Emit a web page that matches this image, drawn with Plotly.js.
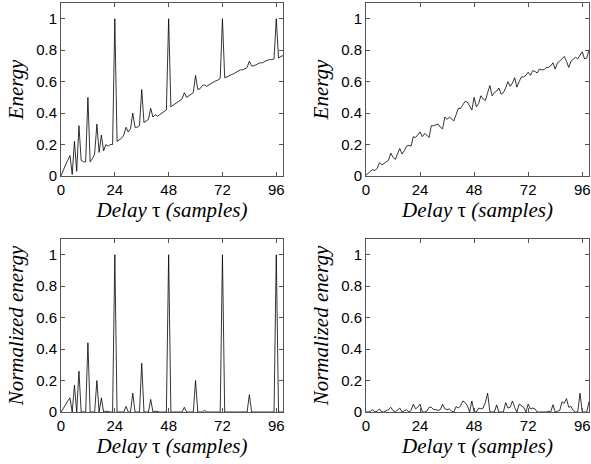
<!DOCTYPE html>
<html>
<head>
<meta charset="utf-8">
<script src="https://cdn.plot.ly/plotly-3.0.1.min.js"></script>
<style>html,body{margin:0;padding:0;background:#fff;}#chart{width:591px;height:464px;}</style>
</head>
<body>
<div id="chart"></div>
<script>
// Delay (lag) in samples
var lags = [];
for (var i = 0; i < 100; i++) lags.push(i);

// Top-left: energy (periodic signal)
var energyPeriodic = [
  0, 0.04, 0.07, 0.10, 0.13, 0.01, 0.22, 0.03, 0.32, 0.10,
  0.09, 0.09, 0.50, 0.09, 0.11, 0.14, 0.33, 0.15, 0.26, 0.16,
  0.20, 0.19, 0.20, 0.20, 1.00, 0.22, 0.23, 0.24, 0.26, 0.31,
  0.28, 0.30, 0.40, 0.31, 0.31, 0.32, 0.55, 0.34, 0.35, 0.36,
  0.43, 0.375, 0.39, 0.38, 0.39, 0.40, 0.41, 0.42, 1.00, 0.44,
  0.45, 0.46, 0.47, 0.48, 0.49, 0.53, 0.50, 0.51, 0.52, 0.53,
  0.64, 0.55, 0.555, 0.575, 0.58, 0.57, 0.58, 0.59, 0.60, 0.605,
  0.61, 0.62, 1.00, 0.625, 0.63, 0.64, 0.645, 0.65, 0.66, 0.665,
  0.675, 0.675, 0.68, 0.69, 0.73, 0.70, 0.70, 0.71, 0.715, 0.72,
  0.72, 0.73, 0.735, 0.74, 0.74, 0.745, 1.00, 0.75, 0.76, 0.765
];

// Top-right: energy (noise-like signal)
var energyNoise = [
  0.005, 0.02, 0.03, 0.04, 0.035, 0.05, 0.085, 0.07, 0.08, 0.09,
  0.10, 0.145, 0.12, 0.105, 0.14, 0.175, 0.14, 0.16, 0.19, 0.195,
  0.19, 0.25, 0.245, 0.26, 0.28, 0.25, 0.27, 0.26, 0.245, 0.32,
  0.32, 0.325, 0.33, 0.31, 0.30, 0.375, 0.36, 0.375, 0.36, 0.35,
  0.39, 0.43, 0.43, 0.45, 0.475, 0.47, 0.44, 0.42, 0.50, 0.44,
  0.46, 0.51, 0.49, 0.48, 0.53, 0.575, 0.51, 0.53, 0.54, 0.56,
  0.52, 0.53, 0.56, 0.60, 0.57, 0.59, 0.625, 0.565, 0.60, 0.63,
  0.63, 0.64, 0.66, 0.64, 0.67, 0.665, 0.655, 0.68, 0.675, 0.675,
  0.69, 0.69, 0.70, 0.72, 0.68, 0.72, 0.73, 0.745, 0.76, 0.73,
  0.69, 0.73, 0.745, 0.755, 0.745, 0.77, 0.79, 0.745, 0.75, 0.80
];

// Bottom-left: normalized energy (periodic signal)
var normPeriodic = [
  0, 0.02, 0.045, 0.07, 0.09, 0, 0.17, 0, 0.26, 0,
  0, 0, 0.44, 0, 0, 0, 0.20, 0, 0.09, 0,
  0.005, 0, 0, 0, 1.00, 0, 0, 0, 0, 0.035,
  0, 0, 0.12, 0, 0, 0, 0.31, 0, 0, 0,
  0.08, 0, 0.005, 0, 0, 0, 0, 0, 1.00, 0,
  0, 0, 0, 0, 0, 0.03, 0, 0, 0, 0,
  0.20, 0, 0, 0, 0.01, 0, 0, 0, 0, 0,
  0, 0, 1.00, 0, 0, 0, 0, 0, 0, 0,
  0, 0, 0, 0, 0.11, 0, 0, 0, 0, 0,
  0, 0, 0, 0, 0, 0, 1.00, 0, 0, 0
];

// Bottom-right: normalized energy (noise-like signal)
var normNoise = [
  0, 0, 0.005, 0.015, 0, 0.005, 0.02, 0, 0, 0.005,
  0.015, 0.03, 0.01, 0, 0.01, 0.025, 0, 0.005, 0.015, 0,
  0.01, 0.05, 0.02, 0.03, 0.05, 0, 0, 0.005, 0.03, 0.03,
  0.015, 0.015, 0.01, 0.015, 0.05, 0.02, 0.015, 0.02, 0.005, 0,
  0.035, 0.025, 0.04, 0.07, 0.06, 0.04, 0, 0.07, 0, 0,
  0.025, 0.02, 0.025, 0.06, 0.12, 0, 0, 0, 0.045, 0,
  0, 0, 0.06, 0.025, 0.03, 0.07, 0.03, 0, 0.05, 0.04,
  0.03, 0, 0.05, 0.02, 0.025, 0.02, 0, 0, 0, 0,
  0, 0.005, 0, 0.046, 0, 0.005, 0.01, 0.065, 0.055, 0.085,
  0.03, 0.035, 0.01, 0, 0, 0.12, 0, 0, 0, 0.065
];

var xTicks = [0, 24, 48, 72, 96];
var yTicks = [0, 0.2, 0.4, 0.6, 0.8, 1];
var xTitle = '<i>Delay</i> τ <i>(samples)</i>';
var yTitleTop = '<i>Energy</i>';
var yTitleBottom = '<i>Normalized energy</i>';

function line(y, xa, ya) {
  return {x: lags, y: y, xaxis: xa, yaxis: ya, type: 'scatter', mode: 'lines',
          line: {color: '#000', width: 0.8}, hoverinfo: 'skip', showlegend: false};
}

var tickFont = {family: 'Liberation Sans', size: 15, color: '#000'};
var titleFont = {family: 'Liberation Serif', size: 21, color: '#000'};

function xax(domain, anchor) {
  return {domain: domain, anchor: anchor, range: [0, 99], tickvals: xTicks,
          ticks: 'inside', ticklen: 4, tickcolor: '#555', tickwidth: 1,
          showline: true, mirror: 'ticks', linecolor: '#555', linewidth: 1,
          showgrid: false, zeroline: false, tickfont: tickFont,
          title: {text: xTitle, font: titleFont, standoff: 0}};
}
function yax(domain, anchor, title) {
  return {domain: domain, anchor: anchor, range: [0, 1.1], tickvals: yTicks,
          ticks: 'inside', ticklen: 4, tickcolor: '#555', tickwidth: 1,
          showline: true, mirror: 'ticks', linecolor: '#555', linewidth: 1,
          showgrid: false, zeroline: false, tickfont: tickFont,
          title: {text: title, font: titleFont, standoff: 6}};
}

var W = 591, H = 464;
var xL = [61 / W, 283 / W], xR = [366 / W, 589 / W];
var yT = [1 - 176 / H, 1 - 3 / H], yB = [1 - 412 / H, 1 - 239 / H];

var data = [
  line(energyPeriodic, 'x', 'y'),
  line(energyNoise, 'x2', 'y2'),
  line(normPeriodic, 'x3', 'y3'),
  line(normNoise, 'x4', 'y4')
];

var layout = {
  width: W, height: H,
  margin: {l: 0, r: 0, t: 0, b: 0},
  paper_bgcolor: '#fff', plot_bgcolor: '#fff',
  xaxis: xax(xL, 'y'), yaxis: yax(yT, 'x', yTitleTop),
  xaxis2: xax(xR, 'y2'), yaxis2: yax(yT, 'x2', yTitleTop),
  xaxis3: xax(xL, 'y3'), yaxis3: yax(yB, 'x3', yTitleBottom),
  xaxis4: xax(xR, 'y4'), yaxis4: yax(yB, 'x4', yTitleBottom)
};

Plotly.newPlot('chart', data, layout, {staticPlot: true, displayModeBar: false});
</script>
</body>
</html>
